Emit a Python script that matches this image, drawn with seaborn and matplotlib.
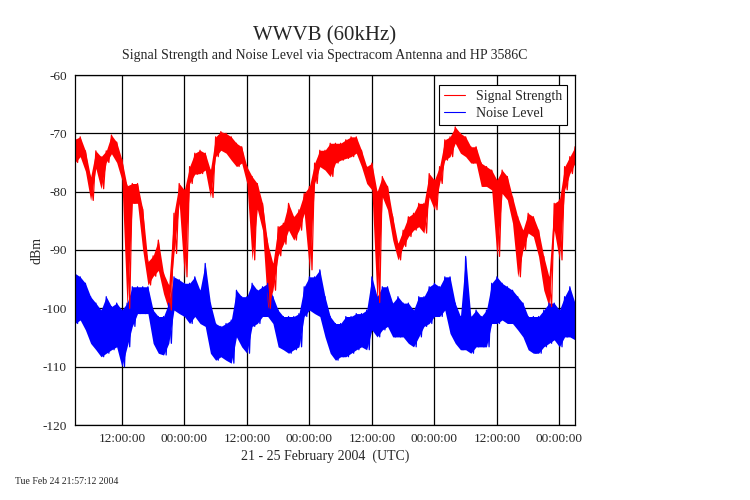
import numpy as np
import pandas as pd
import matplotlib
matplotlib.use("Agg")
import matplotlib.pyplot as plt
import matplotlib.dates as mdates
from matplotlib.ticker import MultipleLocator
from matplotlib.lines import Line2D
import seaborn as sns

# hourly readings, starting 21 Feb 2004 03:00 UTC (hi = top of trace, lo = bottom)
start = pd.Timestamp("2004-02-21 03:00")
hours = list(range(97))

sig_hi = [-71, -70.6, -73, -77.5, -73, -74, -73, -70.3, -71.5, -74.5,
          -79, -78.6, -78.6, -83, -92, -91, -88.3, -94, -96, -83.7,
          -78.6, -79.7, -75.7, -73.4, -72.9, -73.4, -76.3, -70.6, -69.7, -70,
          -70.6, -71.7, -72.3, -75.7, -77.4, -78.6, -82, -88.9, -92.3, -86,
          -85.4, -82, -84.3, -83.1, -80.3, -79.1, -75.1, -72.9, -72.9, -71.7,
          -71.7, -71.7, -71.1, -70.6, -70.6, -72.9, -75.7, -75.1, -80, -77.4,
          -79.1, -84.3, -88.9, -86.6, -84.3, -83.7, -82, -82, -76.9, -78,
          -75.7, -71.1, -70.6, -68.9, -70, -70.6, -72.3, -72.3, -75.1, -75.7,
          -76.3, -78, -76.3, -77.4, -80.9, -84.3, -86.6, -83.7, -84.3, -86.6,
          -91.1, -94.6, -82, -81.4, -75.7, -74, -72.3]
sig_lo = [-75, -74, -76.5, -81.5, -76, -79.5, -75, -73.5, -75, -78,
          -100, -82, -82, -90, -96, -94.5, -93.5, -97.5, -100.3, -90.6,
          -82, -94.6, -78.6, -77, -76.9, -76.3, -81, -74, -72.9, -73.4,
          -74.6, -75.7, -75.1, -78.6, -91.7, -83, -86.6, -100, -96.9, -91,
          -89, -86.6, -88.3, -86.6, -83.7, -93.4, -78.6, -75.7, -76.3, -77.4,
          -75.1, -74.6, -74.3, -74, -73.4, -75.7, -78.6, -79.7, -99, -80.9,
          -83.1, -88.3, -91.7, -89.4, -87.7, -86.6, -86, -87.1, -80.9, -83.1,
          -78.6, -74.6, -74, -71.7, -73.4, -74, -75.1, -75.1, -79.1, -79.1,
          -79.7, -91.1, -80.3, -81.4, -85.4, -94.6, -90, -87.1, -87.7, -91.1,
          -96.9, -99.7, -86.6, -91.7, -79.7, -76.9, -75.1]

noise_hi = [-94, -94.6, -95.7, -98, -99.1, -100.3, -98, -99.7, -99.1, -100.3,
            -99.1, -96.3, -96.3, -96.3, -96.3, -100.3, -101.4, -101.4, -99.1, -94.6,
            -95.1, -95.7, -95.7, -94.6, -96.9, -92.3, -99.1, -102.6, -103.1, -102.6,
            -102, -96.9, -98, -98, -95.7, -96.9, -96.3, -95.7, -98, -100.3,
            -101.4, -101.4, -101.4, -100.9, -96.3, -94.6, -94.6, -93.4, -98, -101.4,
            -102.6, -102.6, -101.4, -101.4, -100.9, -100.9, -100.3, -94.6, -98, -96.3,
            -96.3, -99.1, -98, -99.1, -99.1, -100.3, -98, -98, -96.3, -95.7,
            -96.3, -94.6, -94.6, -99.1, -101.4, -91.1, -101.4, -100.3, -101.4, -100.3,
            -95.7, -94.6, -95.7, -96.3, -96.9, -98, -99.1, -101.4, -101.4, -101.4,
            -100.3, -99.1, -99.1, -100.3, -98, -96.3, -99.1]
noise_lo = [-102.6, -102, -103.7, -106, -107.1, -108.3, -107.7, -107.1, -106.6, -110,
            -106.6, -103.1, -100.9, -100.9, -100.9, -106, -107.7, -108, -106, -100.3,
            -100.9, -101.4, -102.6, -101.4, -102.6, -103.1, -107.7, -108.9, -108.3, -108.9,
            -109.4, -104.9, -106.6, -107.7, -103.1, -102.6, -101.4, -101.4, -102.6, -106.6,
            -107.1, -107.7, -107.1, -106.6, -101.4, -100.3, -100.9, -101.4, -104.9, -107.7,
            -108.9, -108.3, -108.3, -107.7, -107.1, -106.6, -107.1, -103.7, -104.9, -103.7,
            -103.1, -104.9, -104.9, -104.9, -106, -106.6, -104.9, -103.1, -102.6, -101.4,
            -101.4, -100.3, -104.3, -106, -107.1, -107.1, -107.7, -106.6, -106.6, -106.6,
            -102.6, -102.6, -102, -102.6, -102.6, -103.7, -104.9, -107.1, -107.7, -107.7,
            -106.6, -106, -105.4, -106.6, -104.9, -104.9, -105.4]

times = [start + pd.Timedelta(hours=h) for h in hours]


def trace(hi, lo, name):
    # alternate top / bottom of the band every half hour
    rows = []
    for h, a, b in zip(hours, hi, lo):
        rows.append((start + pd.Timedelta(hours=h), a, name))
        rows.append((start + pd.Timedelta(hours=h + 0.5), b, name))
    return pd.DataFrame(rows, columns=["time", "dBm", "series"])


df = pd.concat([trace(noise_hi, noise_lo, "Noise Level"),
                trace(sig_hi, sig_lo, "Signal Strength")], ignore_index=True)

sns.set_style("white")
plt.rcParams["font.family"] = ["Liberation Serif", "DejaVu Serif"]
plt.rcParams["axes.unicode_minus"] = False

fig = plt.figure(figsize=(7.5, 5), dpi=100)
ax = fig.add_axes([0.1, 0.15, 0.6667, 0.7])

# dense band of each trace
ax.fill_between(times, noise_lo, noise_hi, color="blue", lw=0)
ax.fill_between(times, sig_lo, sig_hi, color="red", lw=0)

sns.lineplot(data=df, x="time", y="dBm", hue="series",
             palette={"Signal Strength": "red", "Noise Level": "blue"},
             estimator=None, sort=False, lw=0.9, ax=ax, legend=False)

ax.set_xlim(start, start + pd.Timedelta(hours=96))
ax.set_ylim(-120, -60)

ax.xaxis.set_major_locator(mdates.HourLocator(byhour=[0, 12]))
ax.xaxis.set_major_formatter(mdates.DateFormatter("%H:%M:%S"))
ax.xaxis.set_minor_locator(mdates.HourLocator(byhour=[6, 18]))
ax.yaxis.set_major_locator(MultipleLocator(10))
ax.yaxis.set_minor_locator(MultipleLocator(2))
ax.tick_params(axis="both", which="both", direction="in", labelsize=9.5,
               color="black", width=0.8)
ax.tick_params(which="major", length=0, pad=6)
ax.tick_params(which="minor", length=4)
ax.grid(True, which="major", color="black", lw=0.9)
for s in ax.spines.values():
    s.set_color("black")
    s.set_linewidth(0.9)

ax.set_xlabel("21 - 25 February 2004  (UTC)", fontsize=10, labelpad=3)
ax.set_ylabel("dBm", fontsize=10, labelpad=-1)

handles = [Line2D([], [], color="red", lw=0.8), Line2D([], [], color="blue", lw=0.8)]
leg = ax.legend(handles, ["Signal Strength", "Noise Level"], loc="upper right",
                bbox_to_anchor=(0.984, 0.971), borderaxespad=0, fontsize=10,
                fancybox=False, framealpha=1, edgecolor="black",
                handlelength=1.5, handletextpad=0.8, labelspacing=0.3, borderpad=0.35)
leg.get_frame().set_linewidth(0.8)

fig.text(0.4333, 0.928, "WWVB (60kHz)", ha="center", va="center", fontsize=15)
fig.text(0.4333, 0.888, "Signal Strength and Noise Level via Spectracom Antenna and HP 3586C",
         ha="center", va="center", fontsize=10)
fig.text(0.02, 0.036, "Tue Feb 24 21:57:12 2004", ha="left", va="center", fontsize=7)

fig.savefig("out.png", dpi=100)
